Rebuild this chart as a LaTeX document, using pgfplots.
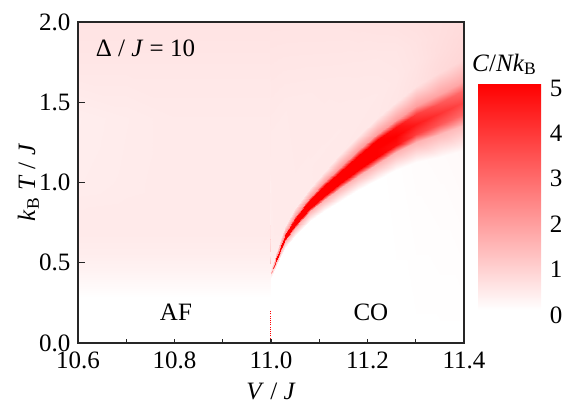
\documentclass[border=0pt]{standalone}
\usepackage{pgfplots}
\pgfplotsset{compat=1.18}
\usepackage{fontspec}
\setmainfont{LiberationSerif}[Extension=.ttf, UprightFont=*-Regular, ItalicFont=*-Italic, BoldFont=*-Bold, BoldItalicFont=*-BoldItalic]
\begin{document}
\fontsize{12.5}{15}\selectfont
\begin{tikzpicture}
\useasboundingbox (-39pt,-30pt) rectangle (244.5pt,171.5pt);
\begin{axis}[
  at={(0,0)}, anchor=south west,
  scale only axis, width=193pt, height=160.5pt,
  xmin=10.6, xmax=11.4, ymin=0, ymax=2,
  enlargelimits=false,
  axis on top,
  colormap={wr}{rgb255=(255,255,255) rgb255=(255,0,0)},
  point meta min=0, point meta max=5,
  xtick={10.6,10.8,11.0,11.2,11.4},
  minor xtick={10.7,10.9,11.1,11.3},
  ytick={0,0.5,1,1.5,2},
  tick pos=left,
  tick align=inside,
  major tick length=3.5pt,
  xtick style={/pgfplots/major tick length=2.2pt,/pgfplots/minor tick length=2.2pt},
  axis line style={line width=0.7pt, black!85},
  every tick/.style={line width=0.6pt, black!85},
  /pgf/number format/assume math mode=true,
  xticklabel style={/pgf/number format/.cd, fixed, fixed zerofill, precision=1},
  yticklabel style={xshift=0.5pt, /pgf/number format/.cd, fixed, fixed zerofill, precision=1},
  xlabel={\textit{V} / \textit{J}},
  ylabel={\textit{k}\textsubscript{B} \textit{T} / \textit{J}},
  xlabel style={at={(axis description cs:0.5,-0.1745)}, anchor=base},
  ylabel style={at={(axis description cs:-0.111,0.5)}, anchor=base, rotate=0},
  colorbar,
  colorbar/width=31.5pt,
  colorbar style={
    at={(parent axis.south east)}, anchor=south west,
    xshift=-1.5pt, yshift=16.5pt,
    scale only axis, height=113.5pt,
    ytick={0,1,2,3,4,5},
    yticklabel style={yshift=-2.5pt},
    /pgf/number format/assume math mode=true,
    major tick length=0pt,
    axis line style={draw=none},
    title={\textit{C}/\textit{Nk}\textsubscript{B}},
    title style={at={(0.5,1)}, anchor=base, yshift=0pt, xshift=-2.5pt},
  },
]
\addplot[surf, shader=interp, mesh/ordering=y varies, mesh/rows=11, mesh/cols=20, point meta=explicit]
 table[x=x, y=y, meta=c, row sep=\\] {
x y c\\
10.6 0 0\\ 10.6 0.28 0\\ 10.6 0.35 0.10\\ 10.6 0.45 0.24\\ 10.6 0.55 0.34\\ 10.6 0.70 0.42\\ 10.6 0.85 0.40\\ 10.6 1.00 0.36\\ 10.6 1.40 0.34\\ 10.6 1.70 0.47\\ 10.6 2.00 0.55\\
10.7 0 0\\ 10.7 0.28 0\\ 10.7 0.35 0.10\\ 10.7 0.45 0.24\\ 10.7 0.55 0.34\\ 10.7 0.70 0.42\\ 10.7 0.85 0.41\\ 10.7 1.00 0.39\\ 10.7 1.40 0.38\\ 10.7 1.70 0.47\\ 10.7 2.00 0.55\\
10.8 0 0\\ 10.8 0.28 0\\ 10.8 0.35 0.10\\ 10.8 0.45 0.24\\ 10.8 0.55 0.34\\ 10.8 0.70 0.42\\ 10.8 0.85 0.42\\ 10.8 1.00 0.42\\ 10.8 1.40 0.42\\ 10.8 1.70 0.47\\ 10.8 2.00 0.55\\
10.9 0 0\\ 10.9 0.28 0\\ 10.9 0.35 0.10\\ 10.9 0.45 0.24\\ 10.9 0.55 0.34\\ 10.9 0.70 0.42\\ 10.9 0.85 0.42\\ 10.9 1.00 0.42\\ 10.9 1.40 0.42\\ 10.9 1.70 0.47\\ 10.9 2.00 0.55\\
10.998 0 0\\ 10.998 0.28 0\\ 10.998 0.35 0.10\\ 10.998 0.45 0.24\\ 10.998 0.55 0.34\\ 10.998 0.70 0.42\\ 10.998 0.85 0.42\\ 10.998 1.00 0.42\\ 10.998 1.40 0.42\\ 10.998 1.70 0.47\\ 10.998 2.00 0.55\\
11.000 0 0\\ 11.000 0.406 0\\ 11.000 0.4328 0.5\\ 11.000 0.436 1.5\\ 11.000 0.44 2.5\\ 11.000 0.444 1.5\\ 11.000 0.4472 0.6\\ 11.000 0.474 0.26\\ 11.000 0.624 0.38\\ 11.000 1.312 0.42\\ 11.000 2.0 0.55\\
11.005 0 0\\ 11.005 0.4325 0\\ 11.005 0.461 1.0\\ 11.005 0.465 3\\ 11.005 0.47 4\\ 11.005 0.475 3\\ 11.005 0.479 1.2\\ 11.005 0.5075 0.30\\ 11.005 0.6575 0.40\\ 11.005 1.3288 0.42\\ 11.005 2.0 0.55\\
11.01 0 0\\ 11.01 0.472 0\\ 11.01 0.5056 1.5\\ 11.01 0.512 5\\ 11.01 0.52 5\\ 11.01 0.528 5\\ 11.01 0.5344 1.9\\ 11.01 0.568 0.35\\ 11.01 0.718 0.42\\ 11.01 1.359 0.42\\ 11.01 2 0.55\\
11.02 0 0\\ 11.02 0.5415 0\\ 11.02 0.5802 1.5\\ 11.02 0.589 5\\ 11.02 0.60 5\\ 11.02 0.611 5\\ 11.02 0.6198 1.9\\ 11.02 0.6585 0.40\\ 11.02 0.8085 0.42\\ 11.02 1.4043 0.42\\ 11.02 2 0.55\\
11.03 0 0\\ 11.03 0.590 0\\ 11.03 0.633 1.5\\ 11.03 0.645 5\\ 11.03 0.66 5\\ 11.03 0.675 5\\ 11.03 0.687 1.9\\ 11.03 0.730 0.42\\ 11.03 0.88 0.42\\ 11.03 1.44 0.42\\ 11.03 2 0.55\\
11.05 0 0\\ 11.05 0.668 0\\ 11.05 0.719 1.5\\ 11.05 0.735 5\\ 11.05 0.755 5\\ 11.05 0.775 5\\ 11.05 0.791 1.9\\ 11.05 0.842 0.42\\ 11.05 0.992 0.42\\ 11.05 1.496 0.43\\ 11.05 2 0.55\\
11.08 0 0\\ 11.08 0.762 0\\ 11.08 0.820 1.5\\ 11.08 0.840 5\\ 11.08 0.865 5\\ 11.08 0.890 5\\ 11.08 0.910 1.9\\ 11.08 0.968 0.42\\ 11.08 1.118 0.42\\ 11.08 1.559 0.44\\ 11.08 2 0.55\\
11.11 0 0\\ 11.11 0.822 0\\ 11.11 0.889 1.5\\ 11.11 0.914 5\\ 11.11 0.945 5\\ 11.11 0.976 5\\ 11.11 1.001 1.9\\ 11.11 1.068 0.43\\ 11.11 1.218 0.42\\ 11.11 1.609 0.45\\ 11.11 2 0.55\\
11.14 0 0\\ 11.14 0.881 0\\ 11.14 0.958 1.5\\ 11.14 0.988 5\\ 11.14 1.025 5\\ 11.14 1.062 5\\ 11.14 1.092 1.9\\ 11.14 1.169 0.44\\ 11.14 1.319 0.42\\ 11.14 1.660 0.46\\ 11.14 2 0.55\\
11.18 0 0\\ 11.18 0.951 0\\ 11.18 1.040 1.5\\ 11.18 1.076 5\\ 11.18 1.12 5\\ 11.18 1.164 5\\ 11.18 1.200 1.9\\ 11.18 1.289 0.45\\ 11.18 1.439 0.43\\ 11.18 1.720 0.47\\ 11.18 2 0.56\\
11.22 0 0\\ 11.22 1.016 0\\ 11.22 1.117 1.5\\ 11.22 1.158 5\\ 11.22 1.21 5\\ 11.22 1.262 5\\ 11.22 1.303 1.9\\ 11.22 1.404 0.46\\ 11.22 1.554 0.44\\ 11.22 1.777 0.48\\ 11.22 2 0.57\\
11.26 0 0\\ 11.26 1.078 0.02\\ 11.26 1.189 1.5\\ 11.26 1.233 4.7\\ 11.26 1.29 5\\ 11.26 1.347 4.7\\ 11.26 1.391 1.9\\ 11.26 1.502 0.50\\ 11.26 1.652 0.47\\ 11.26 1.826 0.5\\ 11.26 2 0.58\\
11.30 0 0\\ 11.30 1.13 0.06\\ 11.30 1.25 1.5\\ 11.30 1.303 3.8\\ 11.30 1.365 4.5\\ 11.30 1.427 3.8\\ 11.30 1.475 1.9\\ 11.30 1.60 0.58\\ 11.30 1.75 0.54\\ 11.30 1.875 0.56\\ 11.30 2 0.6\\
11.35 0 0\\ 11.35 1.16 0.08\\ 11.35 1.30 1.4\\ 11.35 1.363 3.3\\ 11.35 1.43 4.0\\ 11.35 1.497 3.3\\ 11.35 1.55 1.8\\ 11.35 1.69 0.72\\ 11.35 1.82 0.66\\ 11.35 1.91 0.64\\ 11.35 2 0.63\\
11.40 0 0\\ 11.40 1.20 0.12\\ 11.40 1.36 1.3\\ 11.40 1.425 2.9\\ 11.40 1.50 3.6\\ 11.40 1.575 2.9\\ 11.40 1.635 1.7\\ 11.40 1.77 0.80\\ 11.40 1.88 0.74\\ 11.40 1.94 0.71\\ 11.40 2 0.69\\
};
\addplot[red, line width=0.5pt, dash pattern=on 0.5pt off 0.6pt] coordinates {(11,0) (11,0.2)};
\node[anchor=base west] at (axis cs:10.619,1.782) {Δ / \textit{J} = 10};
\node[anchor=base] at (axis cs:10.803,0.143) {AF};
\node[anchor=base] at (axis cs:11.207,0.143) {CO};
\end{axis}
\end{tikzpicture}
\end{document}
